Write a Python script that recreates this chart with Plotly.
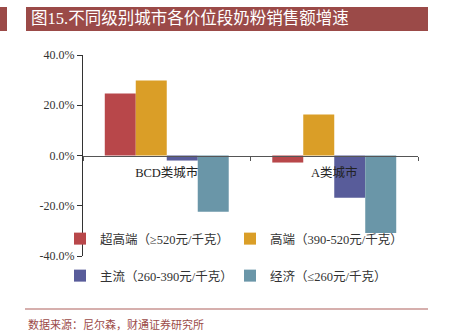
import plotly.graph_objects as go

categories = ["BCD类城市", "A类城市"]
series_names = ["超高端（≥520元/千克）", "高端（390-520元/千克）",
                "主流（260-390元/千克）", "经济（≤260元/千克）"]
v_ultra = [24.7, -2.8]
v_high = [29.9, 16.3]
v_main = [-2.0, -16.8]
v_econ = [-22.4, -30.8]
y_ticks = [-40, -20, 0, 20, 40]
y_tick_labels = ["-40.0%", "-20.0%", "0.0%", "20.0%", "40.0%"]

colors = ["#B8474A", "#DA9E27", "#585C9A", "#6A96A8"]
values = [v_ultra, v_high, v_main, v_econ]
legends = ["legend", "legend", "legend2", "legend2"]

FONT = "Liberation Serif, Noto Sans CJK SC, serif"

fig = go.Figure()
for name, vals, c, lg in zip(series_names, values, colors, legends):
    fig.add_trace(go.Bar(x=categories, y=vals, name=name, marker_color=c,
                         marker_line_width=0, legend=lg))

W, H = 452, 332
L, R, T, B = 20, 34, 55, 76          # outer plot region
AX_L = 83                            # left edge of bar area
PW, PH = W - L - R, H - T - B

leg_common = dict(orientation="h", xanchor="left", yanchor="top",
                  entrywidth=125, entrywidthmode="pixels",
                  font=dict(family=FONT, size=12.5, color="#333333"),
                  bgcolor="rgba(0,0,0,0)", itemwidth=30, tracegroupgap=0)

fig.update_layout(
    width=W, height=H,
    margin=dict(l=L, r=R, t=T, b=B),
    paper_bgcolor="white", plot_bgcolor="white",
    barmode="group", bargap=0.26, bargroupgap=0,
    font=dict(family=FONT, size=12, color="#333333"),
    showlegend=True,
    legend=dict(x=(60 - L) / PW, y=1 - (224 - T) / PH, **leg_common),
    legend2=dict(x=(60 - L) / PW, y=1 - (261 - T) / PH, **leg_common),
    xaxis=dict(domain=[(AX_L - L) / PW, 1], anchor="free", position=0.5,
               showline=True, linecolor="#555555",
               linewidth=1, ticks="outside", ticklen=4, tickcolor="#555555",
               tickson="boundaries", showgrid=False, zeroline=False,
               ticklabelstandoff=5,
               tickfont=dict(family=FONT, size=12.5, color="#222222")),
    yaxis=dict(range=[-40, 40], tickvals=y_ticks, ticktext=y_tick_labels,
               anchor="x", automargin=False,
               showline=True, linecolor="#333333", linewidth=1, ticks="outside",
               ticklen=5, tickcolor="#333333", showgrid=False, zeroline=False,
               tickfont=dict(family=FONT, size=12, color="#333333")),
)

# title banner
fig.add_shape(type="rect", xref="paper", yref="paper",
              x0=(0 - L) / PW, x1=(7 - L) / PW,
              y0=1 + (T - 7) / PH, y1=1 + (T - 31) / PH,
              fillcolor="#9B4A48", line_width=0, layer="below")
fig.add_shape(type="rect", xref="paper", yref="paper",
              x0=(26 - L) / PW, x1=(428 - L) / PW,
              y0=1 + (T - 7) / PH, y1=1 + (T - 31) / PH,
              fillcolor="#9B4A48", line_width=0, layer="below")
fig.add_annotation(text="图15.不同级别城市各价位段奶粉销售额增速", xref="paper", yref="paper",
                   x=(29 - L) / PW, y=1 + (T - 19) / PH,
                   xanchor="left", yanchor="middle", showarrow=False,
                   font=dict(family=FONT, size=16.5, color="white"))
# bottom rule and source
fig.add_shape(type="line", xref="paper", yref="paper",
              x0=(25 - L) / PW, x1=(428 - L) / PW,
              y0=1 - (309 - T) / PH, y1=1 - (309 - T) / PH,
              line=dict(color="#C99492", width=1.5))
fig.add_annotation(text="数据来源：尼尔森，财通证券研究所", xref="paper", yref="paper",
                   x=(26 - L) / PW, y=1 - (324 - T) / PH,
                   xanchor="left", yanchor="middle", showarrow=False,
                   font=dict(family=FONT, size=11, color="#9B4A48"))

fig.write_html("out.html")
